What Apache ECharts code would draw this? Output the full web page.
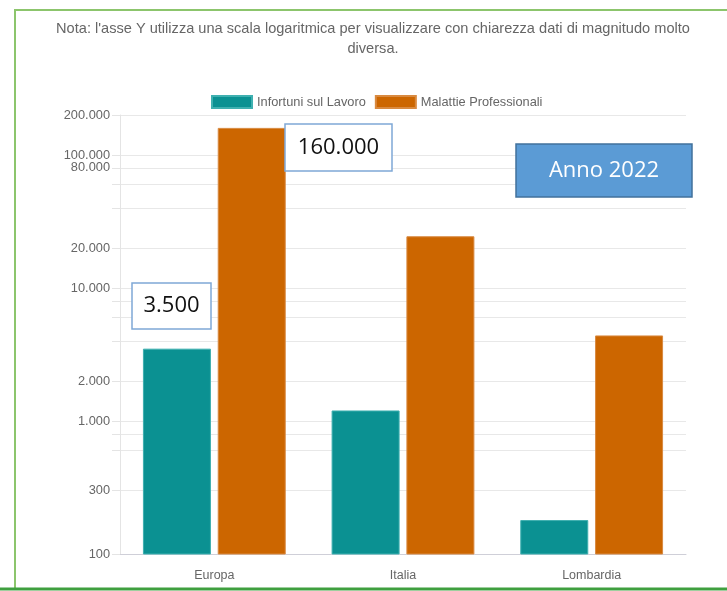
<!DOCTYPE html>
<html>
<head>
<meta charset="utf-8">
<script src="https://cdn.jsdelivr.net/npm/echarts@6/dist/echarts.min.js"></script>
<style>
  html, body { margin: 0; padding: 0; background: #fff; }
  #chart { width: 727px; height: 591px; }
</style>
</head>
<body>
<div id="chart"></div>
<script>
// dati (anno 2022)
var categories = ['Europa', 'Italia', 'Lombardia']
var infortuni = [3500, 1200, 180]
var malattie = [160000, 24500, 4400]
var seriesNames = ['Infortuni sul Lavoro', 'Malattie Professionali']

// etichette e linee della scala logaritmica
var yLabelValues = [100, 300, 1000, 2000, 10000, 20000, 80000, 100000, 200000]
var yGridValues = [100, 300, 600, 800, 1000, 2000, 4000, 6000, 8000, 10000, 20000, 40000, 60000, 80000, 100000, 200000]

var noteText = "Nota: l'asse Y utilizza una scala logaritmica per visualizzare con chiarezza dati di magnitudo molto\ndiversa."

function fmt(v) {
  return String(Math.round(v)).replace(/\B(?=(\d{3})+(?!\d))/g, '.')
}

var chart = echarts.init(document.getElementById('chart'))

chart.setOption({
  animation: false,
  textStyle: { fontFamily: 'Liberation Sans, Arial, sans-serif' },
  legend: {
    top: 90,
    left: 206,
    itemWidth: 40,
    itemHeight: 12,
    itemGap: 9,
    icon: 'rect',
    data: seriesNames,
    textStyle: { fontSize: 12.8, color: '#666' }
  },
  grid: {
    left: 120,
    right: 41,
    top: 115,
    bottom: 37,
    containLabel: false
  },
  xAxis: {
    type: 'category',
    data: categories,
    axisLine: { lineStyle: { color: '#cfcfd8' } },
    axisTick: { show: false },
    axisLabel: { margin: 15, fontSize: 12.5, color: '#666' },
    splitLine: { show: false }
  },
  yAxis: {
    type: 'log',
    logBase: 10,
    min: 100,
    max: 200000,
    axisLine: { show: true, lineStyle: { color: '#e4e4e4' } },
    axisTick: {
      show: true,
      length: 8,
      customValues: yGridValues,
      lineStyle: { color: '#e4e4e4' }
    },
    axisLabel: {
      margin: 10,
      fontSize: 12.8,
      color: '#666',
      customValues: yLabelValues,
      formatter: fmt
    },
    splitLine: { show: true, lineStyle: { color: '#e8e8e8' } }
  },
  series: [{
    name: seriesNames[0],
    type: 'bar',
    data: infortuni,
    barWidth: 68,
    barGap: '10%',
    itemStyle: { color: '#0b9192', borderColor: '#3fb0b0', borderWidth: 1 }
  }, {
    name: seriesNames[1],
    type: 'bar',
    data: malattie,
    barWidth: 68,
    barGap: '10%',
    itemStyle: { color: '#cc6600', borderColor: '#d98a40', borderWidth: 1 }
  }],
  graphic: [{
    // cornice verde
    type: 'rect',
    z: 20,
    shape: { x: 15, y: 10, width: 740, height: 579 },
    style: { fill: 'none', stroke: '#8cc56c', lineWidth: 2 },
    silent: true
  }, {
    type: 'line',
    z: 20,
    shape: { x1: 0, y1: 589, x2: 727, y2: 589 },
    style: { stroke: '#3f9f3f', lineWidth: 3 },
    silent: true
  }, {
    type: 'text',
    z: 20,
    x: 373,
    y: 19,
    style: {
      text: noteText,
      textAlign: 'center',
      textVerticalAlign: 'top',
      fontSize: 14.6,
      lineHeight: 20,
      fontFamily: 'Liberation Sans, Arial, sans-serif',
      fill: '#666'
    }
  }, {
    type: 'rect',
    z: 20,
    shape: { x: 132, y: 283, width: 79, height: 46 },
    style: { fill: '#fff', stroke: '#7fa8d6', lineWidth: 1.5 }
  }, {
    type: 'text',
    z: 21,
    x: 171.5,
    y: 306,
    style: {
      text: fmt(infortuni[0]),
      textAlign: 'center',
      textVerticalAlign: 'middle',
      fontSize: 22,
      fontFamily: 'Open Sans, sans-serif',
      fill: '#111'
    }
  }, {
    type: 'rect',
    z: 20,
    shape: { x: 285, y: 124, width: 107, height: 47 },
    style: { fill: '#fff', stroke: '#7fa8d6', lineWidth: 1.5 }
  }, {
    type: 'text',
    z: 21,
    x: 338.5,
    y: 147.5,
    style: {
      text: fmt(malattie[0]),
      textAlign: 'center',
      textVerticalAlign: 'middle',
      fontSize: 22,
      fontFamily: 'Open Sans, sans-serif',
      fill: '#111'
    }
  }, {
    type: 'rect',
    z: 20,
    shape: { x: 516, y: 144, width: 176, height: 53 },
    style: { fill: '#5b9bd5', stroke: '#41719c', lineWidth: 1.5 }
  }, {
    type: 'text',
    z: 21,
    x: 604,
    y: 170.5,
    style: {
      text: 'Anno 2022',
      textAlign: 'center',
      textVerticalAlign: 'middle',
      fontSize: 22,
      fontFamily: 'Open Sans, sans-serif',
      fill: '#fff'
    }
  }]
})
</script>
</body>
</html>
